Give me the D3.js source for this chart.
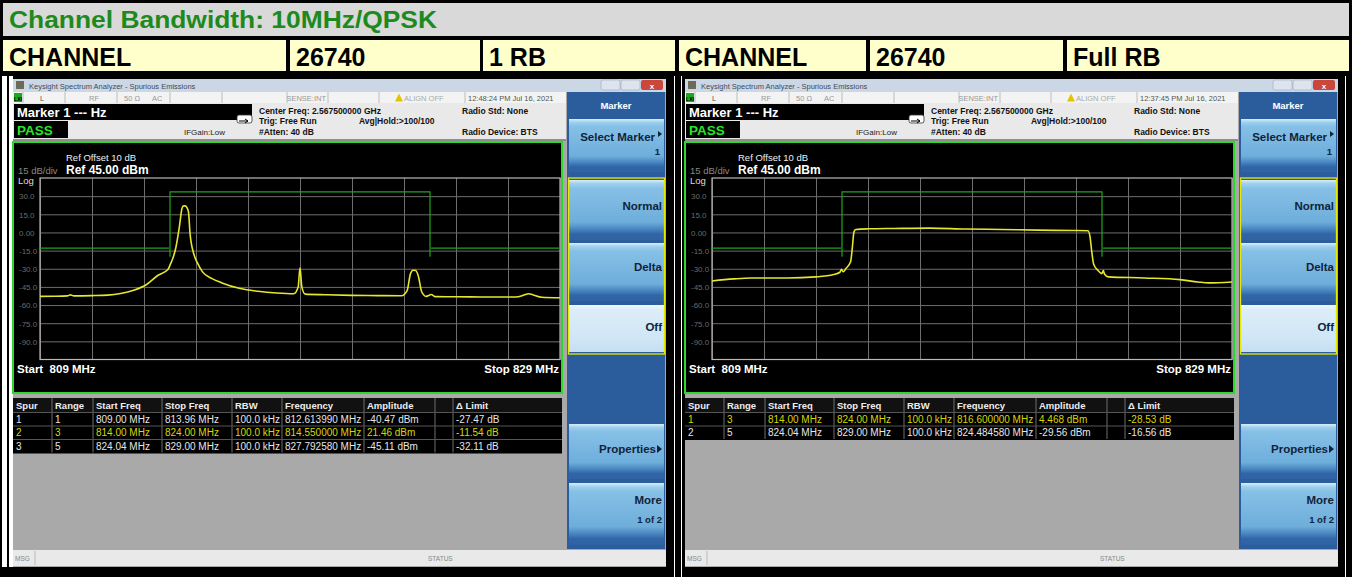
<!DOCTYPE html>
<html>
<head>
<meta charset="utf-8">
<script src="https://cdn.jsdelivr.net/npm/d3@7"></script>
<style>
body { margin: 0; background: #000; }
svg { display: block; font-family: "Liberation Sans", Arial, sans-serif; }
</style>
</head>
<body>
<div id="chart"></div>
<script>
// Header texts
var title = "Channel Bandwidth: 10MHz/QPSK";
var headerLabels = ["CHANNEL", "26740", "1 RB", "CHANNEL", "26740", "Full RB"];

// Axis ticks of the analyzer screen
var freqGrid = [809, 811, 813, 815, 817, 819, 821, 823, 825, 827, 829];
var dbTicks = [30, 15, 0, -15, -30, -45, -60, -75, -90];
var dbTickLabels = ["30.0", "15.0", "0.00", "-15.0", "-30.0", "-45.0", "-60.0", "-75.0", "-90.0"];

// Limit line (MHz / dBm), one list per segment
var limitFreq = [[809, 813.96], [814, 814, 824, 824], [824.04, 829]];
var limitAmp = [[-13, -13], [-20, 33.5, 33.5, -20], [-13, -13]];

// Trace of 1 RB (MHz / dBm)
var leftFreq = [809.0, 809.6, 810.05, 810.17, 810.3, 811.0, 811.6, 812.1, 812.6, 813.1, 813.54, 813.92, 814.02, 814.1, 814.23, 814.36, 814.46, 814.52, 814.58, 814.65, 814.71, 814.77, 814.91, 815.05, 815.25, 815.6, 816.0, 816.7, 817.38, 818.1, 818.76, 818.93, 819.0, 819.07, 819.2, 820.0, 821.0, 822.0, 822.9, 823.12, 823.25, 823.35, 823.45, 823.55, 823.68, 823.85, 824.05, 824.2, 825.0, 826.0, 827.3, 827.65, 827.8, 827.95, 828.3, 829.0];
var leftAmp = [-52.8, -52.7, -52.4, -51.6, -52.4, -52.2, -51.8, -50.5, -47.8, -43, -35.4, -30.7, -26, -22, -12, 4.6, 19.8, 22, 22, 20.5, 17, -0.6, -17.4, -25, -32.6, -38, -41.7, -46.4, -48.6, -50, -50.6, -45, -29.3, -45, -51, -51.5, -52, -52.2, -52.3, -48, -34, -31.2, -31.5, -36, -49, -52.8, -51.3, -53, -53.2, -53.3, -53.4, -51.5, -50.6, -51.5, -53.6, -54];

// Trace of Full RB (MHz / dBm)
var rightFreq = [809.0, 809.83, 810.5, 811.9, 812.99, 813.68, 813.92, 813.98, 814.05, 814.15, 814.33, 814.4, 814.46, 814.53, 815.0, 816.0, 817.38, 818.76, 820.13, 821.5, 822.88, 823.46, 823.54, 823.6, 823.68, 823.84, 824.0, 824.05, 824.1, 824.25, 825.63, 827.0, 827.69, 828.1, 829.0];
var rightAmp = [-40.1, -38.4, -37.6, -37.6, -36.7, -34.8, -32.9, -30.5, -32.5, -29.8, -24.3, -12, 0.5, 2.5, 3, 3.3, 3.6, 2.8, 2.5, 1.9, 1.6, 1.4, -3.6, -14.7, -26.3, -31.3, -34, -31.5, -34.5, -36.7, -37.6, -39, -40.9, -41.7, -40.9];

// Spur tables
var tableHeaders = ["Spur", "Range", "Start Freq", "Stop Freq", "RBW", "Frequency", "Amplitude", "", "\u0394 Limit"];
var leftRows = [
    ["1", "1", "809.00 MHz", "813.96 MHz", "100.0 kHz", "812.613990 MHz", "-40.47 dBm", "", "-27.47 dB"],
    ["2", "3", "814.00 MHz", "824.00 MHz", "100.0 kHz", "814.550000 MHz", "21.46 dBm", "", "-11.54 dB"],
    ["3", "5", "824.04 MHz", "829.00 MHz", "100.0 kHz", "827.792580 MHz", "-45.11 dBm", "", "-32.11 dB"]
];
var rightRows = [
    ["1", "3", "814.00 MHz", "824.00 MHz", "100.0 kHz", "816.600000 MHz", "4.468 dBm", "", "-28.53 dB"],
    ["2", "5", "824.04 MHz", "829.00 MHz", "100.0 kHz", "824.484580 MHz", "-29.56 dBm", "", "-16.56 dB"]
];
var leftTimes = "12:48:24 PM Jul 16, 2021";
var rightTimes = "12:37:45 PM Jul 16, 2021";
var softkeys = ["Select Marker", "Normal", "Delta", "Off", "Properties", "More"];

var width = 1352;
var height = 577;
var svg = d3.select("#chart")
    .append("svg")
    .attr("width", width)
    .attr("height", height);

svg.append("rect").attr("width", width).attr("height", height).attr("fill", "#000");

// gradients for the softkeys
var defs = svg.append("defs");
function addGrad(id, stops) {
    var g = defs.append("linearGradient").attr("id", id)
        .attr("x1", 0).attr("y1", 0).attr("x2", 0).attr("y2", 1);
    stops.forEach(function(s){
        g.append("stop").attr("offset", s[0]).attr("stop-color", s[1]);
    });
}
addGrad("key", [["0%", "#d8eefa"], ["6%", "#9fd0ee"], ["14%", "#86c0e6"], ["70%", "#6eaedb"], ["80%", "#4f8cc6"], ["90%", "#3166a6"], ["100%", "#2f63a3"]]);
addGrad("keyOff", [["0%", "#eef7fc"], ["10%", "#dcedf8"], ["75%", "#cfe6f5"], ["100%", "#c4dff2"]]);

// Title row
svg.append("rect").attr("x", 3).attr("y", 3).attr("width", 1346).attr("height", 33).attr("fill", "#d9d9d9");
svg.append("text").attr("x", 9).attr("y", 28)
    .attr("font-size", 24).attr("font-weight", "bold").attr("fill", "#1e8a1e")
    .attr("textLength", 428).attr("lengthAdjust", "spacingAndGlyphs")
    .text(title);

// Yellow header cells
var cellX = [[3, 286], [290, 480], [483, 675], [679, 866], [870, 1063], [1067, 1349]];
svg.selectAll(".hcell")
    .data(headerLabels)
    .enter()
    .append("rect")
    .attr("class", "hcell")
    .attr("x", function(d, i){ return cellX[i][0]; })
    .attr("y", 40)
    .attr("width", function(d, i){ return cellX[i][1] - cellX[i][0]; })
    .attr("height", 31)
    .attr("fill", "#ffffcc");
svg.selectAll(".htext")
    .data(headerLabels)
    .enter()
    .append("text")
    .attr("class", "htext")
    .attr("x", function(d, i){ return cellX[i][0] + 6; })
    .attr("y", 66)
    .attr("font-size", 25).attr("font-weight", "bold").attr("fill", "#000")
    .text(function(d){ return d; });

// white frame strips of the lower row
svg.append("rect").attr("x", 2).attr("y", 76).attr("width", 5).attr("height", 491).attr("fill", "#fff");
svg.append("rect").attr("x", 9).attr("y", 76).attr("width", 4).attr("height", 491).attr("fill", "#fff");
svg.append("rect").attr("x", 674).attr("y", 76).attr("width", 1).attr("height", 501).attr("fill", "#fff");
svg.append("rect").attr("x", 681).attr("y", 76).attr("width", 1).attr("height", 501).attr("fill", "#fff");
svg.append("rect").attr("x", 1345).attr("y", 76).attr("width", 1).attr("height", 501).attr("fill", "#fff");

// Plot scales (relative to a panel)
var xScale = d3.scaleLinear().domain([809, 829]).range([40, 560]);
var yScale = d3.scaleLinear().domain([-105, 45]).range([359.5, 178]);

var line = d3.line()
    .x(function(d){ return xScale(d[0]); })
    .y(function(d){ return yScale(d[1]); })
    .curve(d3.curveMonotoneX);

function txt(g, x, y, s, size, color, weight, anchor) {
    return g.append("text").attr("x", x).attr("y", y)
        .attr("font-size", size).attr("fill", color)
        .attr("font-weight", weight || "normal")
        .attr("text-anchor", anchor || "start")
        .text(s);
}

function drawPanel(offset, time, freqs, amps, rows, highlight) {
    var g = svg.append("g").attr("transform", "translate(" + offset + ",0)");

    // window body
    g.append("rect").attr("x", 13).attr("y", 79).attr("width", 653).attr("height", 488).attr("fill", "#a9a9a9");

    // title bar
    g.append("rect").attr("x", 13).attr("y", 79).attr("width", 653).attr("height", 13).attr("fill", "#cbd7e5");
    g.append("rect").attr("x", 16).attr("y", 81).attr("width", 8).attr("height", 8).attr("fill", "#6d6a55");
    txt(g, 29, 89, "Keysight Spectrum Analyzer - Spurious Emissions", 7.5, "#3d4b60");
    g.append("rect").attr("x", 601).attr("y", 80).attr("width", 19).attr("height", 10).attr("rx", 2).attr("fill", "#dde4ee").attr("stroke", "#9aa8bb").attr("stroke-width", 0.6);
    g.append("rect").attr("x", 621).attr("y", 80).attr("width", 19).attr("height", 10).attr("rx", 2).attr("fill", "#dde4ee").attr("stroke", "#9aa8bb").attr("stroke-width", 0.6);
    g.append("rect").attr("x", 641).attr("y", 80).attr("width", 22).attr("height", 10).attr("rx", 2).attr("fill", "#c9483b");
    txt(g, 652, 88.5, "x", 8, "#fff", "bold", "middle");

    // status row
    g.append("rect").attr("x", 13).attr("y", 92).attr("width", 553).attr("height", 11).attr("fill", "#f3f3f3");
    var segs = [23, 65, 117, 170, 222, 287, 328, 379, 465];
    segs.forEach(function(s){
        g.append("line").attr("x1", s).attr("x2", s).attr("y1", 92).attr("y2", 103).attr("stroke", "#bdbdbd");
    });
    g.append("rect").attr("x", 14).attr("y", 93).attr("width", 8).attr("height", 9).attr("fill", "#1ea81e");
    txt(g, 18, 100.5, "LXI", 5, "#000", "bold", "middle");
    txt(g, 40, 100.5, "L", 7.5, "#555");
    txt(g, 89, 100.5, "RF", 7.5, "#999");
    txt(g, 124, 100.5, "50 \u03A9", 7.5, "#999");
    txt(g, 152, 100.5, "AC", 7.5, "#999");
    txt(g, 326, 100.5, "SENSE:INT", 7.5, "#999", "normal", "end");
    g.append("path").attr("d", "M395,101.5 L399,93.5 L403,101.5 Z").attr("fill", "#e6c300");
    txt(g, 404, 100.5, "ALIGN OFF", 7.5, "#aaa");
    txt(g, 468, 100.5, time, 7.5, "#555");

    // marker and pass rows
    g.append("rect").attr("x", 13).attr("y", 103).attr("width", 553).attr("height", 36).attr("fill", "#e9e9e9");
    g.append("rect").attr("x", 14).attr("y", 104).attr("width", 238).attr("height", 16).attr("fill", "#000");
    txt(g, 17, 117, "Marker 1 --- Hz", 13, "#fff", "bold");
    g.append("rect").attr("x", 14).attr("y", 121).attr("width", 54).attr("height", 17).attr("fill", "#000");
    txt(g, 17, 134.5, "PASS", 13.5, "#27e627", "bold");
    txt(g, 184, 135, "IFGain:Low", 8, "#222");
    g.append("rect").attr("x", 237).attr("y", 115).attr("width", 15).attr("height", 8).attr("rx", 2).attr("fill", "#fff").attr("stroke", "#333").attr("stroke-width", 0.8);
    g.append("path").attr("d", "M239,121 L248,121 M245,119 L248,121 L245,123").attr("stroke", "#000").attr("fill", "none");
    txt(g, 259, 114, "Center Freq: 2.567500000 GHz", 8.5, "#111", "bold");
    txt(g, 259, 124, "Trig: Free Run", 8.5, "#111", "bold");
    txt(g, 359, 124, "Avg|Hold:>100/100", 8.5, "#111", "bold");
    txt(g, 259, 135, "#Atten: 40 dB", 8.5, "#111", "bold");
    txt(g, 462, 114, "Radio Std: None", 8.5, "#111", "bold");
    txt(g, 462, 135, "Radio Device: BTS", 8.5, "#111", "bold");
    g.append("rect").attr("x", 13).attr("y", 139).attr("width", 553).attr("height", 2).attr("fill", "#8d8d8d");

    // plot area
    g.append("rect").attr("x", 13).attr("y", 142).attr("width", 549).attr("height", 251)
        .attr("fill", "#000").attr("stroke", "#2bd82b").attr("stroke-width", 2);

    // grid with axes
    var plotH = yScale(-105) - yScale(45);
    g.append("g")
        .attr("class", "xgrid")
        .attr("transform", "translate(0," + yScale(-105) + ")")
        .call(d3.axisBottom(xScale).tickValues(freqGrid).tickSize(-plotH).tickFormat(""))
        .call(function(a){ a.select(".domain").remove(); })
        .selectAll("line").attr("stroke", "#6e6e6e").attr("stroke-width", 1);
    var yAxis = g.append("g")
        .attr("class", "ygrid")
        .attr("transform", "translate(" + xScale(809) + ",0)")
        .call(d3.axisLeft(yScale).tickValues(dbTicks).tickSize(-(xScale(829) - xScale(809)))
            .tickFormat(function(d, i){ return dbTickLabels[i]; }))
        .call(function(a){ a.select(".domain").remove(); });
    yAxis.selectAll("line").attr("stroke", "#6e6e6e").attr("stroke-width", 1);
    yAxis.selectAll("text")
        .attr("x", -21).attr("dy", "0.35em")
        .attr("text-anchor", "start")
        .attr("font-size", 8).attr("fill", "#6a6a6a")
        .attr("font-family", "Liberation Sans, Arial, sans-serif");
    g.append("rect").attr("x", xScale(809)).attr("y", yScale(45))
        .attr("width", xScale(829) - xScale(809)).attr("height", plotH)
        .attr("fill", "none").attr("stroke", "#b8b8b8").attr("stroke-width", 1.2);

    txt(g, 66, 161, "Ref Offset 10 dB", 9.5, "#f0f0f0");
    txt(g, 66, 174, "Ref 45.00 dBm", 12, "#fff", "bold");
    txt(g, 18, 174, "15 dB/div", 9.5, "#888");
    txt(g, 18, 184, "Log", 9.5, "#ddd");
    txt(g, 17, 373, "Start\u00a0\u00a0809 MHz", 11.5, "#fff", "bold");
    txt(g, 559, 373, "Stop 829 MHz", 11.5, "#fff", "bold", "end");

    // limit line
    limitFreq.forEach(function(fs, k){
        var pts = fs.map(function(f, j){ return [f, limitAmp[k][j]]; });
        g.append("path")
            .attr("d", d3.line().x(function(d){ return xScale(d[0]); }).y(function(d){ return yScale(d[1]); })(pts))
            .attr("fill", "none").attr("stroke", "#1fa51f").attr("stroke-width", 1.2);
    });

    // trace
    var pts = freqs.map(function(f, i){ return [f, amps[i]]; });
    g.append("path")
        .attr("d", line(pts))
        .attr("fill", "none").attr("stroke", "#e6e62e").attr("stroke-width", 1.6);

    // spur table
    var colX = [13, 52, 93, 162, 232, 282, 364, 435, 453, 562];
    var rowH = 13.5;
    var tTop = 398;
    g.append("rect").attr("x", 13).attr("y", tTop).attr("width", 549).attr("height", 14 + rowH * rows.length + 1).attr("fill", "#000");
    g.append("rect").attr("x", 13).attr("y", tTop).attr("width", 549).attr("height", 14).attr("fill", "#111");
    colX.slice(1, -1).forEach(function(cx){
        g.append("line").attr("x1", cx).attr("x2", cx).attr("y1", tTop).attr("y2", tTop + 14 + rowH * rows.length)
            .attr("stroke", "#6f6f6f");
    });
    g.selectAll(".th")
        .data(tableHeaders)
        .enter()
        .append("text")
        .attr("x", function(d, i){ return colX[i] + 3; })
        .attr("y", tTop + 10.5)
        .attr("font-size", 9.5).attr("font-weight", "bold").attr("fill", "#eee")
        .text(function(d){ return d; });
    rows.forEach(function(r, ri){
        var ry = tTop + 14 + ri * rowH;
        g.append("line").attr("x1", 13).attr("x2", 562).attr("y1", ry + 0.5).attr("y2", ry + 0.5).attr("stroke", "#555");
        g.selectAll(".row" + ri)
            .data(r)
            .enter()
            .append("text")
            .attr("x", function(d, i){ return colX[i] + 3; })
            .attr("y", ry + 10.5)
            .attr("font-size", 10)
            .attr("fill", ri === highlight ? "#d6d600" : "#e6e6e6")
            .text(function(d){ return d; });
    });

    // softkeys
    g.append("rect").attr("x", 567).attr("y", 92).attr("width", 98).attr("height", 457).attr("fill", "#2b5d9c");
    txt(g, 616, 109, "Marker", 9.5, "#fff", "bold", "middle");
    var keys = [[119, 172], [180, 240], [243, 301], [305, 352], [424, 479], [483, 545]];
    keys.forEach(function(k, i){
        g.append("rect").attr("x", 569).attr("y", k[0]).attr("width", 95).attr("height", k[1] - k[0])
            .attr("fill", i === 3 ? "url(#keyOff)" : "url(#key)");
    });
    var kc = "#10233a";
    txt(g, 655, 141, softkeys[0], 11.5, kc, "bold", "end");
    g.append("path").attr("d", "M658,131 L662,134 L658,137 Z").attr("fill", kc);
    txt(g, 660, 155, "1", 9.5, kc, "bold", "end");
    txt(g, 662, 210, softkeys[1], 11.5, kc, "bold", "end");
    txt(g, 662, 271, softkeys[2], 11.5, kc, "bold", "end");
    txt(g, 662, 331, softkeys[3], 11.5, kc, "bold", "end");
    txt(g, 656, 453, softkeys[4], 11.5, kc, "bold", "end");
    g.append("path").attr("d", "M657,445 L662,449 L657,453 Z").attr("fill", kc);
    txt(g, 662, 504, softkeys[5], 11.5, kc, "bold", "end");
    txt(g, 662, 523, "1 of 2", 9.5, kc, "bold", "end");
    g.append("rect").attr("x", 568.5).attr("y", 178).attr("width", 96).attr("height", 176)
        .attr("fill", "none").attr("stroke", "#e8e800").attr("stroke-width", 1.3);

    // bottom status bar
    g.append("rect").attr("x", 13).attr("y", 550).attr("width", 653).attr("height", 16).attr("fill", "#e9e9e9");
    g.append("line").attr("x1", 35).attr("x2", 35).attr("y1", 551).attr("y2", 565).attr("stroke", "#bbb");
    txt(g, 15, 561, "MSG", 6.5, "#888");
    txt(g, 428, 561, "STATUS", 6.5, "#888");
}

drawPanel(0, leftTimes, leftFreq, leftAmp, leftRows, 1);
drawPanel(672, rightTimes, rightFreq, rightAmp, rightRows, 0);
</script>
</body>
</html>
